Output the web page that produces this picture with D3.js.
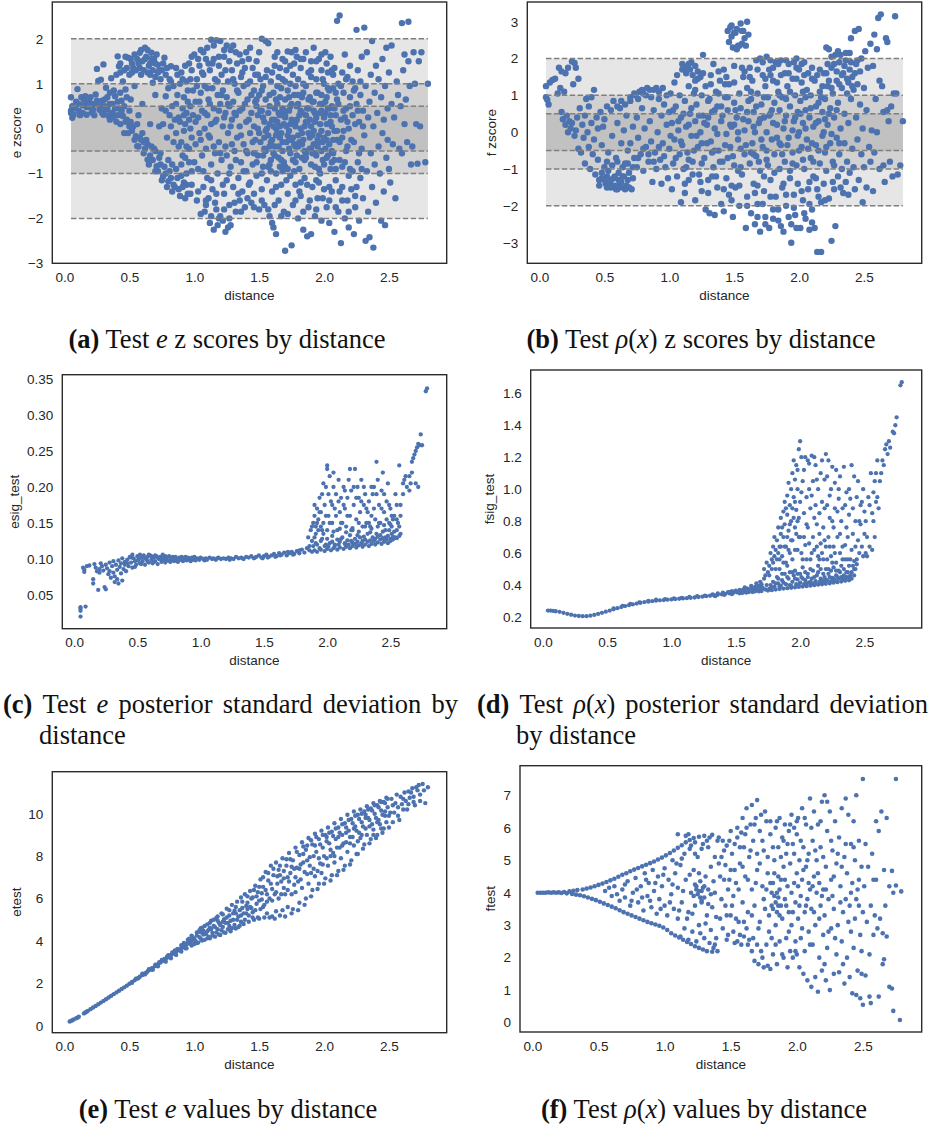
<!DOCTYPE html>
<html>
<head>
<meta charset="utf-8">
<script src="https://cdn.jsdelivr.net/npm/d3@7"></script>
<style>
  body { margin: 0; background: #fff; }
  svg { display: block; }
</style>
</head>
<body>
<script>
// ---- data: [distance, value] ----
const eZscore = [
[0.05,0.70],[0.05,0.40],[0.05,0.35],[0.06,0.24],[0.07,0.31],[0.08,0.45],[0.10,0.88],[0.11,0.40],[0.12,0.30],[0.14,0.52],[0.15,0.65],[0.16,0.72],[0.17,0.31],[0.18,0.58],[0.19,0.48],[0.20,0.70],[0.21,0.36],[0.22,0.42],[0.23,0.55],[0.24,0.76],[0.25,1.33],[0.26,1.06],[0.27,0.42],[0.28,1.09],[0.29,0.62],[0.30,1.43],[0.30,0.31],[0.31,0.50],[0.32,0.91],[0.32,0.42],[0.33,0.70],[0.34,0.28],[0.35,0.20],[0.35,0.55],[0.36,1.12],[0.37,0.35],[0.38,0.85],[0.39,0.72],[0.40,0.15],[0.41,1.61],[0.42,1.39],[0.42,0.45],[0.43,1.25],[0.44,0.62],[0.45,0.28],[0.45,1.05],[0.46,-0.10],[0.47,0.87],[0.48,1.35],[0.49,1.58],[0.50,0.40],[0.51,0.65],[0.52,1.45],[0.53,0.05],[0.54,0.95],[0.55,-0.17],[0.56,-0.39],[0.57,0.30],[0.58,1.69],[0.59,1.20],[0.60,0.55],[0.61,-0.30],[0.62,1.80],[0.63,-0.25],[0.64,-0.69],[0.65,1.40],[0.66,0.10],[0.67,1.69],[0.68,1.02],[0.69,-0.45],[0.70,0.75],[0.71,-0.84],[0.72,1.25],[0.73,0.05],[0.74,-0.55],[0.75,0.45],[0.76,-1.06],[0.77,1.58],[0.78,0.72],[0.79,-0.20],[0.80,-1.17],[0.81,0.30],[0.82,1.39],[0.83,-0.80],[0.84,0.95],[0.85,-1.30],[0.86,0.55],[0.87,1.20],[0.88,-0.40],[0.89,0.15],[0.90,-1.05],[0.91,1.10],[0.92,0.70],[0.93,-0.65],[0.94,0.35],[0.95,-1.45],[0.96,1.45],[0.97,0.00],[0.98,-0.95],[0.99,0.85],
[0.52,1.25],[0.55,1.30],[0.56,1.55],[0.58,1.35],[0.60,1.50],[0.63,1.60],[0.64,1.25],[0.66,1.45],[0.68,1.30],[0.69,1.55],[0.70,1.15],[0.72,1.42],[0.74,1.10],[0.75,1.30],[0.48,0.20],[0.50,0.05],[0.52,-0.05],[0.58,-0.20],[0.60,-0.10],[0.62,-0.45],[0.66,-0.60],[0.68,-0.70],[0.70,-0.50],[0.72,-0.95],[0.74,-0.80],[0.78,-1.00],[0.80,-0.70],[0.82,-1.10],[0.84,-1.25],[0.86,-0.90],[0.88,-1.35],[0.90,-0.80],[0.92,-1.20],[0.94,-1.00],[0.96,-0.75],[0.98,-1.25],[0.80,0.90],[0.83,0.50],[0.85,0.20],[0.87,0.75],[0.89,1.00],[0.91,0.45],[0.93,0.10],[0.95,0.60],[0.97,1.10],[0.99,0.30],[0.76,0.10],[0.78,0.40],[0.82,0.05],[0.84,-0.30],[0.86,-0.10],[0.88,0.25],[0.90,-0.30],[0.92,-0.05],[0.94,-0.40],[0.96,0.20],[0.98,-0.20],[0.82,1.05],[0.86,1.35],[0.90,1.25],[0.94,1.05],[0.98,1.30],
[1.00,1.65],[1.01,-0.35],[1.01,0.60],[1.02,-1.60],[1.02,1.10],[1.03,0.25],[1.03,-0.90],[1.04,1.40],[1.04,-0.10],[1.05,1.75],[1.05,-1.90],[1.05,0.80],[1.06,-0.60],[1.06,0.40],[1.07,-1.30],[1.07,1.20],[1.08,-1.85],[1.08,0.00],[1.08,0.95],[1.09,-0.45],[1.09,1.55],[1.10,1.80],[1.10,-1.10],[1.10,0.30],
[1.11,0.65],[1.11,-1.55],[1.12,-2.10],[1.12,1.30],[1.12,-0.20],[1.13,1.98],[1.13,0.10],[1.13,-0.80],[1.14,0.90],[1.14,-1.35],[1.15,-2.25],[1.15,0.45],[1.15,1.55],[1.16,-0.55],[1.16,1.10],[1.17,1.97],[1.17,-1.80],[1.17,0.20],[1.18,-2.15],[1.18,0.75],[1.18,-1.00],[1.19,1.40],[1.19,-0.30],[1.20,1.95],[1.20,-1.95],[1.20,0.55],
[1.21,-0.70],[1.21,1.20],[1.22,-2.05],[1.22,0.05],[1.22,0.85],[1.23,-1.45],[1.23,1.60],[1.24,-2.30],[1.24,0.35],[1.24,-0.40],[1.25,1.85],[1.25,-1.15],[1.25,0.70],[1.26,-2.20],[1.26,1.05],[1.26,-0.10],[1.27,-1.70],[1.27,0.50],[1.28,-2.15],[1.28,1.75],[1.28,-0.85],[1.29,0.20],[1.29,1.30],[1.30,1.85],[1.30,-1.30],[1.30,0.60],
[1.31,-0.50],[1.31,1.00],[1.32,-1.85],[1.32,0.30],[1.33,1.45],[1.33,-0.20],[1.34,-1.10],[1.34,0.80],[1.35,1.65],[1.35,-1.60],[1.35,0.05],[1.36,-0.75],[1.36,1.15],[1.37,0.45],[1.37,-1.40],[1.38,-0.35],[1.38,0.95],[1.39,-1.75],[1.39,1.35],[1.40,1.70],[1.40,-0.95],[1.40,0.15],
[1.41,0.65],[1.41,-0.55],[1.42,1.55],[1.42,-1.25],[1.43,-0.10],[1.43,1.05],[1.44,-1.65],[1.44,0.35],[1.45,1.35],[1.45,-0.80],[1.46,0.85],[1.46,-1.45],[1.47,-0.25],[1.47,1.20],[1.48,1.50],[1.48,-1.05],[1.48,0.50],[1.49,-0.60],[1.49,0.00],[1.50,1.70],[1.50,-1.80],[1.50,0.75],
[1.51,-0.30],[1.51,1.10],[1.52,2.00],[1.52,-1.35],[1.52,0.40],[1.53,-0.85],[1.53,0.95],[1.54,-1.70],[1.54,0.15],[1.55,1.95],[1.55,-0.50],[1.55,0.65],[1.56,-1.15],[1.56,1.30],[1.57,1.90],[1.57,-0.15],[1.58,-1.95],[1.58,0.50],[1.59,-0.70],[1.59,1.05],[1.60,0.20],[1.60,-1.40],[1.60,-2.10],
[1.61,-2.20],[1.61,0.80],[1.62,-0.40],[1.62,1.40],[1.63,-2.35],[1.63,0.00],[1.63,-1.00],[1.64,0.55],[1.64,1.70],[1.65,-0.65],[1.65,-1.60],[1.65,1.15],[1.66,0.30],[1.66,-0.20],[1.67,-1.25],[1.67,0.90],[1.68,1.55],[1.68,-0.50],[1.69,-1.85],[1.69,0.10],[1.70,-2.72],[1.70,0.65],[1.70,-0.85],
[1.71,1.30],[1.71,-0.30],[1.72,1.72],[1.72,-1.45],[1.73,0.40],[1.73,-0.05],[1.74,-1.05],[1.74,1.00],[1.75,-2.60],[1.75,1.70],[1.75,0.20],[1.76,-0.70],[1.76,-1.70],[1.77,0.75],[1.77,1.45],[1.78,-0.40],[1.78,-1.25],[1.79,0.50],[1.79,1.60],[1.80,-0.15],[1.80,-2.00],[1.80,1.10],
[1.81,0.30],[1.81,-0.90],[1.82,1.35],[1.82,-1.50],[1.83,-0.35],[1.83,0.70],[1.84,-2.25],[1.84,1.55],[1.85,0.05],[1.85,-1.10],[1.86,0.95],[1.86,-0.55],[1.87,-2.40],[1.87,0.45],[1.88,1.25],[1.88,-1.75],[1.89,-0.20],[1.89,0.20],[1.90,-2.35],[1.90,1.50],[1.90,-0.80],
[1.91,0.60],[1.91,-1.30],[1.92,1.80],[1.92,-0.05],[1.93,0.35],[1.93,-1.95],[1.94,-0.60],[1.94,1.10],[1.95,0.80],[1.95,-1.55],[1.96,1.55],[1.96,-0.30],[1.97,0.10],[1.97,-1.00],[1.98,1.30],[1.98,-2.05],[1.99,0.55],[1.99,-0.70],[2.00,-1.35],[2.00,0.25],[2.00,1.00],
[2.01,1.70],[2.01,-0.45],[2.02,-1.75],[2.02,0.70],[2.03,-0.10],[2.03,1.25],[2.04,-2.10],[2.04,0.45],[2.05,-0.90],[2.05,1.60],[2.06,0.05],[2.06,-1.40],[2.07,0.90],[2.07,-0.55],[2.08,-2.30],[2.08,1.35],[2.09,0.30],[2.09,-1.15],[2.10,2.40],[2.10,-0.25],[2.10,0.65],
[2.11,-1.85],[2.11,1.00],[2.12,2.52],[2.12,-0.70],[2.13,0.20],[2.13,-2.55],[2.14,1.25],[2.14,-1.30],[2.15,-0.05],[2.15,0.80],[2.16,-2.00],[2.16,1.65],[2.17,-0.50],[2.17,0.45],[2.18,-1.60],[2.18,1.15],[2.19,0.00],[2.19,-2.20],[2.20,0.70],[2.20,-0.90],[2.20,1.40],
[2.21,-1.35],[2.22,0.30],[2.22,1.05],[2.23,-2.35],[2.23,-0.30],[2.24,0.90],[2.24,-1.75],[2.25,2.20],[2.25,0.55],[2.26,-0.75],[2.26,1.30],[2.27,-2.05],[2.27,0.15],[2.28,0.75],[2.28,-1.10],[2.29,1.60],[2.29,-0.45],[2.30,-1.55],[2.30,0.40],
[2.31,2.25],[2.31,-0.15],[2.32,0.95],[2.32,-2.50],[2.33,-0.95],[2.33,1.70],[2.34,0.25],[2.34,-1.85],[2.35,-2.42],[2.35,0.60],[2.36,1.20],[2.36,-0.55],[2.37,-1.30],[2.37,1.95],[2.38,0.05],[2.38,-2.65],[2.39,0.80],[2.39,-0.80],[2.40,1.40],[2.40,-1.65],
[2.41,0.35],[2.42,-0.40],[2.42,1.10],[2.43,-1.00],[2.44,0.70],[2.44,-2.05],[2.45,1.55],[2.45,-0.10],[2.46,0.20],[2.46,-1.40],[2.47,0.95],[2.47,-2.15],[2.48,-0.65],[2.48,1.80],[2.49,0.45],[2.49,-0.25],[2.50,1.25],[2.50,-0.90],[2.51,-1.20],[2.52,0.55],
[2.52,1.85],[2.53,-0.35],[2.54,0.25],[2.55,-1.55],[2.56,1.05],[2.57,0.75],[2.58,-0.45],[2.59,0.50],[2.60,2.35],[2.60,-0.55],[2.61,1.30],[2.62,1.65],[2.62,0.10],[2.63,0.65],[2.64,-0.30],[2.65,2.38],[2.65,1.50],[2.66,0.95],[2.67,-0.80],[2.68,-0.40],[2.69,1.70],[2.70,1.00],[2.71,0.10],[2.72,-0.78],[2.73,1.50],[2.74,0.05],[2.75,1.70],[2.78,-0.75],[2.80,1.00],
[1.55,-0.05],[1.58,0.10],[1.60,-0.25],[1.62,0.20],[1.64,-0.10],[1.66,0.05],[1.68,-0.30],[1.70,0.25],[1.72,-0.15],[1.74,0.10],[1.76,-0.20],[1.78,0.15],[1.80,-0.40],[1.82,0.00],[1.84,-0.25],[1.86,0.30],[1.88,-0.10],[1.90,0.05],[1.92,-0.35],[1.94,0.25],[1.96,-0.15],[1.98,0.40],[2.00,-0.20],[2.02,0.10],[2.04,-0.35],[2.06,0.50],[2.08,-0.05],[1.62,-0.60],[1.68,0.45],[1.74,-0.55],[1.80,0.55],[1.86,-0.65],[1.92,0.60],[1.98,-0.50],[2.04,0.85],[1.72,-0.90],[1.84,0.80],[1.96,-0.90],[2.02,-0.65],[1.66,-0.85],[1.78,0.95],[1.90,-0.45],[1.58,-0.80],[1.64,0.95],[1.70,1.05],[1.82,-1.20],[1.94,-1.15],[2.06,-0.75],[2.12,-0.30],[2.16,0.25],[2.14,-0.85],[2.18,-0.40],
[0.91,-0.60],[0.92,0.30],[0.93,1.40],[0.94,-1.25],[0.95,0.85],[0.96,-0.45],[0.97,0.50],[0.98,1.60],[1.00,-0.75],[1.01,0.15],[1.02,0.95],[1.03,-1.40],[1.04,0.60],[1.05,-0.25],[1.06,1.25],[1.07,-0.95],[1.08,0.35],[1.09,-1.60],[1.10,0.90],[1.11,-0.15],[1.12,0.55],[1.13,-1.15],[1.14,1.45],[1.15,-0.40],[1.16,0.15],[1.17,-1.45],[1.18,1.05],[1.19,0.40],[1.20,-0.55],[1.21,0.75],[1.22,-1.25],[1.23,0.25],[1.24,1.30],[1.25,-0.60],[1.26,0.55],[1.27,-1.00],[1.28,0.05],[1.29,-0.35],[1.30,1.10],[1.31,0.35],[1.32,-0.70],[1.33,0.85],[1.34,-1.45],[1.35,0.40],[1.36,-0.15],[1.37,1.25],[1.38,-0.95],[1.39,0.55],[1.40,-0.50],[1.41,1.00],[1.42,0.20],[1.43,-1.20],[1.44,0.75],[1.45,-0.30],[1.46,0.05],[1.47,0.60],[1.48,-0.75],[1.49,1.20],[1.50,-0.10],[1.51,0.40],[1.52,-1.00],[1.53,0.25],[1.54,-0.45],[1.55,1.15],[1.56,0.00],[1.57,-0.85],[1.58,0.75],[1.59,-0.30],[1.60,1.25],[1.61,-0.55],[1.62,0.45],[1.63,-1.30],[1.64,0.15],[1.65,-0.40],[1.66,0.70],[1.67,-0.10],[1.68,1.10],[1.69,-0.75],[1.70,0.30],[1.71,-1.15],[1.72,0.85],[1.73,-0.45],[1.74,0.50],[1.75,-0.25],[1.76,1.20],[1.77,-0.95],[1.78,0.05],[1.79,-0.60],[1.80,0.75],[1.81,-1.40],[1.82,0.40],[1.83,-0.10],[1.84,1.00],[1.85,-0.70],[1.86,0.15],[1.87,-1.25],[1.88,0.65],[1.89,-0.45],[1.90,1.15],[1.91,-0.15],[1.92,0.40],[1.93,-0.85],[1.94,0.80],[1.95,-0.25],[1.96,-1.20],[1.97,0.55],[1.98,-0.05],[1.99,1.10],[2.00,-0.80],[2.01,0.35],[2.02,-0.25],[2.03,0.90],[2.04,-1.30],[2.05,0.15],[2.06,-0.50],[2.07,1.20],[2.08,0.45],[2.09,-0.90],[2.10,-0.05],[2.11,0.55],[2.12,-1.40],[2.13,0.95],[2.14,-0.20],[2.15,0.40],[2.16,-0.75],[2.17,1.10],[2.18,0.15],[2.19,-1.05],[2.20,0.50],[2.21,-0.25],[2.22,-0.95],[2.23,0.85],[2.24,0.10],[2.25,-1.30],[2.26,0.40],[2.27,-0.55],[2.28,1.05],[2.29,-0.90],[2.30,0.05],
[1.46,-0.55],[1.49,0.30],[1.52,0.85],[1.54,-0.20],[1.57,0.35],[1.59,-0.95],[1.61,0.05],[1.63,0.65],[1.65,0.35],[1.67,-0.70],[1.69,0.40],[1.71,0.05],[1.73,-0.25],[1.75,0.55],[1.77,-0.35],[1.79,0.20],[1.81,-0.30],[1.83,0.35],[1.85,-0.50],[1.87,0.15],[1.89,0.70],[1.91,-0.55],[1.93,0.15],[1.95,-0.40],[1.97,0.35],[1.99,-0.30],[2.01,0.60],[2.03,-0.60],[2.05,0.30],[2.07,-0.25],[2.09,0.80],[1.48,0.65],[1.53,-0.60],[1.58,-0.40],[1.63,-0.15],[1.68,-0.95],[1.73,0.70],[1.78,-0.75],[1.83,-0.65],[1.88,0.45],[1.93,-0.55],[1.98,0.75],[2.03,0.45],[2.08,-0.70],
[0.40,1.20],[0.43,1.45],[0.46,1.30],[0.47,1.60],[0.50,1.20],[0.51,1.55],[0.53,1.35],[0.54,1.65],[0.57,1.45],[0.59,1.75],[0.61,1.30],[0.62,1.55],[0.64,1.75],[0.66,1.20],[0.67,1.55],[0.70,1.45],[0.71,1.65],[0.73,1.30],[0.76,1.45],[0.78,1.20],[0.79,1.35],[0.81,1.10],[0.36,0.35],[0.38,0.25],[0.41,0.30],[0.43,0.10],[0.44,0.40],[0.47,0.15],[0.49,-0.10],[0.51,0.15],[0.54,-0.25],[0.56,0.10],[0.57,-0.40],[0.59,-0.25],[0.61,-0.55],[0.64,-0.35],[0.65,-0.80],[0.67,-0.40],[0.70,-0.95],[0.73,-0.65],[0.75,-1.15],[0.77,-0.85],[0.79,-1.30],[0.81,-0.95],[0.83,-1.40],[0.87,-1.10],[0.89,-1.50],[0.91,-1.30],[0.93,-1.55],[0.97,-1.45],
[0.06,0.50],[0.09,0.60],[0.11,0.55],[0.13,0.70],[0.14,0.35],[0.17,0.48],[0.19,0.60],[0.21,0.55],[0.23,0.30],[0.25,0.62],[0.27,0.50],[0.29,0.35],[0.31,0.65],[0.33,0.45],[0.35,0.80],[0.37,0.55],[0.39,0.45],[0.41,0.60],[0.43,0.80],[0.46,0.50],[0.48,0.70],
[1.03,1.55],[1.07,1.70],[1.11,1.45],[1.15,1.85],[1.19,1.60],[1.23,1.75],[1.27,1.50],[1.32,1.70],[1.37,1.50],[1.43,1.80],[1.09,-1.70],[1.13,-1.95],[1.16,-1.65],[1.19,-2.00],[1.23,-1.80],[1.27,-2.00],[1.31,-1.65],[1.36,-1.85],[1.41,-1.55],[1.46,-1.75],[1.52,-1.60],[1.57,-1.80],[1.62,-1.70],[1.67,-1.95],[1.72,-1.90],[1.78,-1.60],[1.84,-1.85],[1.89,-1.60],[1.94,-1.80],[1.99,-1.55],[2.04,-1.60],[2.09,-1.75],[2.14,-1.60],[2.19,-1.85],[2.24,-1.50],
[1.70,1.50],[1.74,1.40],[1.78,1.75],[1.82,1.55],[1.86,1.70],[1.90,1.30],[1.94,1.50],[1.98,1.65],[2.02,1.45],[2.06,1.30],[1.62,1.60],[1.66,1.35]
];

const fZscore = [
[0.05,1.25],[0.05,0.95],[0.06,0.88],[0.07,0.75],[0.08,1.35],[0.10,1.42],[0.12,1.45],[0.14,1.05],[0.15,1.75],[0.16,1.20],[0.17,1.65],[0.17,0.55],[0.18,0.35],[0.19,1.10],[0.20,1.60],[0.20,0.20],[0.21,0.45],[0.22,1.75],[0.22,0.00],[0.23,0.30],[0.24,0.10],[0.25,1.92],[0.25,0.25],[0.26,1.30],[0.27,1.88],[0.27,-0.10],[0.28,1.75],[0.28,0.05],[0.29,0.40],[0.30,1.45],[0.30,-0.45],[0.31,0.65],[0.32,-0.55],[0.33,0.20],[0.34,-0.15],[0.35,0.45],[0.35,-0.85],[0.36,0.90],[0.37,0.00],[0.38,-0.40],[0.38,0.70],[0.39,-1.00],[0.40,0.95],[0.40,0.25],[0.41,-0.60],[0.42,1.15],[0.42,-0.20],[0.43,-1.15],[0.44,0.40],[0.45,-0.75],[0.45,0.10],[0.46,-1.30],[0.47,0.55],[0.48,-0.35],[0.48,-1.25],[0.49,0.15],[0.50,-0.95],
[0.50,0.35],[0.51,-1.40],[0.52,-1.20],[0.52,0.70],[0.53,-0.55],[0.54,-1.35],[0.55,0.60],[0.55,-1.50],[0.56,-0.10],[0.57,-1.25],[0.57,0.85],[0.58,-1.45],[0.59,-0.70],[0.60,-1.55],[0.60,0.25],[0.61,-1.30],[0.62,0.65],[0.62,-1.40],[0.63,-0.30],[0.64,-1.50],[0.65,0.05],[0.65,-1.20],[0.66,-0.85],[0.67,-1.45],[0.67,0.45],[0.68,-0.50],[0.69,-1.10],[0.70,0.85],[0.70,-0.30],[0.71,-1.55],[0.72,0.15],[0.73,-0.70],[0.74,1.00],[0.75,-0.95],[0.75,0.40],[0.76,-0.15],[0.77,1.10],[0.78,-0.60],[0.79,0.65],[0.80,-1.05],[0.80,1.05],[0.81,0.10],[0.82,-0.40],[0.83,1.20],[0.84,-0.80],[0.85,0.30],[0.85,1.15],[0.86,-0.25],[0.87,-1.35],[0.88,0.60],[0.89,-0.55],[0.90,1.20],[0.90,-1.00],[0.91,0.00],[0.92,0.90],[0.93,-0.75],[0.94,-1.40],[0.94,0.45],[0.95,-0.30],[0.96,0.75],[0.97,-0.95],[0.98,0.20],[0.99,-1.25],[1.00,0.55],
[1.00,-0.45],[1.01,1.05],[1.02,-1.55],[1.02,0.25],[1.03,-0.85],[1.04,1.35],[1.04,-0.20],[1.05,0.70],[1.06,-1.20],[1.06,1.55],[1.07,0.05],[1.08,-0.60],[1.08,1.00],[1.09,-1.90],[1.09,0.40],[1.10,1.70],[1.10,-0.35],[1.11,-1.00],[1.12,0.85],[1.12,-1.65],[1.13,0.15],[1.14,1.80],[1.14,-0.55],[1.15,1.25],[1.15,-1.30],[1.16,0.50],[1.17,1.90],[1.17,-0.10],[1.18,-0.80],[1.19,1.05],[1.20,-1.85],[1.20,0.30],[1.21,0.75],[1.22,-0.40],[1.22,1.45],[1.23,-1.15],[1.24,0.00],[1.25,1.00],[1.25,-1.60],[1.26,2.10],[1.26,0.45],[1.27,-0.70],[1.28,-2.10],[1.28,1.25],[1.29,0.20],[1.30,-1.30],[1.30,0.85],[1.31,-2.20],[1.32,1.55],[1.32,-0.25],[1.33,0.55],[1.34,-0.95],[1.34,1.85],[1.35,-2.25],[1.35,0.10],[1.36,1.10],[1.37,-1.50],[1.37,0.70],[1.38,-0.50],[1.39,1.40],[1.40,-1.95],[1.40,0.30],[1.41,-0.80],[1.42,1.70],[1.42,-2.15],[1.43,0.95],[1.44,-0.05],[1.44,-1.25],[1.45,2.75],[1.45,0.60],[1.46,1.30],[1.46,-1.70],[1.47,2.85],[1.47,-0.40],[1.48,2.60],[1.48,0.15],[1.49,2.30],[1.49,-2.30],[1.50,1.80],[1.50,-0.90],[1.50,0.80],
[1.51,2.70],[1.51,-1.50],[1.52,2.25],[1.52,0.40],[1.53,2.35],[1.53,-0.20],[1.54,1.05],[1.54,-2.00],[1.55,2.95],[1.55,0.65],[1.56,2.40],[1.56,-1.15],[1.57,2.75],[1.57,1.50],[1.58,-0.60],[1.58,0.05],[1.59,2.35],[1.59,-2.60],[1.60,3.00],[1.60,1.20],[1.60,-1.75],[1.61,2.65],[1.61,0.30],[1.62,-0.85],[1.62,1.75],[1.63,-2.20],[1.63,0.90],[1.64,-0.30],[1.64,1.40],[1.65,-1.40],[1.65,0.55],[1.66,-2.50],[1.66,0.00],[1.67,1.95],[1.67,-0.65],[1.68,1.05],[1.68,-1.95],[1.69,0.25],[1.70,2.00],[1.70,-2.70],[1.70,-1.05],[1.71,0.75],[1.72,1.55],[1.72,-0.40],[1.73,-1.60],[1.73,0.40],[1.74,1.25],[1.74,-2.30],[1.75,0.00],[1.75,2.05],[1.76,-0.90],[1.76,0.95],[1.77,-2.60],[1.77,1.70],[1.78,-1.30],[1.78,0.50],[1.79,-0.20],[1.80,1.40],[1.80,-2.10],[1.81,0.80],[1.81,-0.60],[1.82,1.90],[1.82,-1.75],[1.83,0.20],[1.84,-2.40],[1.84,1.10],[1.85,-1.00],[1.85,0.60],[1.86,1.95],[1.86,-0.35],[1.87,-1.50],[1.87,0.95],[1.88,-2.70],[1.88,0.10],[1.89,1.60],[1.89,-0.80],[1.90,0.45],[1.90,-2.00],[1.91,1.25],[1.92,-0.15],[1.92,1.85],[1.93,-1.25],[1.93,0.70],[1.94,-2.50],[1.94,-3.00],[1.95,1.45],[1.95,-0.55],[1.96,0.30],[1.96,-1.70],[1.97,1.00],[1.97,-2.25],[1.98,2.00],[1.98,-0.90],[1.99,0.55],[1.99,-1.40],[2.00,1.70],[2.00,0.00],
[2.01,-2.60],[2.01,0.85],[2.02,-0.40],[2.02,1.35],[2.03,-1.85],[2.03,0.25],[2.04,1.90],[2.04,-1.00],[2.05,0.60],[2.05,-2.35],[2.06,1.15],[2.06,-0.20],[2.07,-1.55],[2.07,1.60],[2.08,0.40],[2.08,-2.65],[2.09,-0.70],[2.09,1.00],[2.10,1.75],[2.10,-2.10],[2.11,0.15],[2.11,-1.20],[2.12,1.40],[2.12,-2.60],[2.13,-0.35],[2.13,0.70],[2.14,-3.25],[2.14,1.55],[2.15,-1.75],[2.15,0.30],[2.16,-0.85],[2.16,1.10],[2.17,-3.25],[2.17,-1.90],[2.18,0.55],[2.18,-0.10],[2.19,1.60],[2.19,-1.40],[2.20,0.90],[2.20,-0.55],[2.21,2.30],[2.21,-1.05],[2.22,1.25],[2.22,0.20],[2.23,2.25],[2.23,-1.80],[2.24,0.65],[2.24,-0.30],[2.25,1.75],[2.25,-2.95],[2.26,-0.80],[2.26,1.05],[2.27,-1.55],[2.27,0.40],[2.28,2.10],[2.28,-2.55],[2.29,1.40],[2.29,-0.15],[2.30,-1.20],[2.30,0.80],[2.31,1.90],[2.31,-0.60],[2.32,2.10],[2.32,0.10],[2.33,1.20],[2.33,-1.00],[2.34,-1.65],[2.34,1.60],[2.35,0.50],[2.35,-0.30],[2.36,1.95],[2.36,-1.35],[2.37,1.05],[2.37,-0.80],[2.38,1.35],[2.38,0.25],[2.39,2.15],[2.39,-1.10],[2.40,2.55],[2.40,0.90],[2.41,-0.45],[2.41,1.50],[2.42,1.15],[2.42,-0.95],[2.43,2.75],[2.43,-1.55],[2.44,0.40],[2.44,1.85],[2.45,-0.20],[2.45,1.30],[2.46,2.80],[2.46,-1.30],[2.47,0.75],[2.47,1.65],[2.48,-0.60],[2.48,2.00],[2.49,-1.90],[2.49,0.10],[2.50,1.20],[2.50,-0.95],
[2.51,2.20],[2.52,-1.50],[2.52,0.60],[2.53,1.75],[2.54,-0.40],[2.55,2.40],[2.55,-0.80],[2.56,0.05],[2.57,1.80],[2.57,-1.60],[2.58,2.65],[2.58,-0.55],[2.59,0.90],[2.60,2.25],[2.60,0.00],[2.61,3.10],[2.62,1.40],[2.62,-1.00],[2.63,3.20],[2.64,1.25],[2.65,0.55],[2.65,-0.90],[2.66,-1.35],[2.67,2.55],[2.68,2.45],[2.68,0.60],[2.69,0.30],[2.70,-0.80],[2.71,0.70],[2.72,-1.20],[2.73,1.05],[2.74,3.15],[2.75,1.05],[2.76,-1.15],[2.78,-0.90],[2.80,0.30],
[1.30,0.40],[1.35,-0.50],[1.40,0.70],[1.45,-0.70],[1.50,0.20],[1.55,-0.45],[1.60,0.55],[1.65,-0.60],[1.70,0.35],[1.75,-0.50],[1.80,0.25],[1.85,-0.30],[1.90,0.90],[1.95,0.05],[2.00,-0.50],[2.05,0.95],[2.10,-0.30],[2.15,0.80],[2.20,0.35],[1.33,-1.20],[1.43,1.30],[1.53,-1.05],[1.63,1.10],[1.73,-1.20],[1.83,1.35],[1.93,-1.05],[2.03,1.10],[2.13,-1.25],[1.38,1.05],[1.48,-1.45],[1.58,1.65],[1.68,-1.45],[1.78,1.55],[1.88,-1.40],[1.98,1.45],[2.08,-1.35],[2.18,1.25],[1.25,-0.30],[1.20,1.15],[1.15,-0.75],
[0.46,-1.45],[0.48,-1.10],[0.50,-1.30],[0.52,-1.50],[0.53,-1.05],[0.55,-1.30],[0.56,-1.45],[0.58,-1.20],[0.59,-1.55],[0.61,-1.10],[0.63,-1.35],[0.64,-1.20],[0.66,-1.55],[0.68,-1.30],[0.69,-1.50],[0.72,-1.25],[0.52,-0.80],[0.56,-0.90],[0.60,-0.80],[0.64,-0.95],[0.68,-0.85],[0.72,-0.95],[0.76,-0.70],[0.80,-0.45],[0.84,-0.60],[0.88,-0.80],[0.92,-0.40],[0.96,-0.65],
[0.60,0.70],[0.63,0.85],[0.66,0.75],[0.70,0.95],[0.73,1.05],[0.76,0.90],[0.79,1.15],[0.82,1.00],[0.86,0.95],[0.88,1.15],[0.92,1.10],[0.95,1.20],[0.98,1.00],
[1.10,1.85],[1.12,1.75],[1.13,1.60],[1.15,1.85],[1.16,1.70],[1.18,1.55],[1.20,1.80],[1.22,1.65],[1.24,1.50],
[1.46,2.45],[1.48,2.90],[1.50,2.70],[1.52,2.80],[1.54,2.35],[1.56,2.75],[1.58,2.55],
[2.21,1.60],[2.23,1.40],[2.25,1.20],[2.27,1.85],[2.29,1.65],[2.31,1.30],[2.33,1.55],[2.35,1.80],[2.37,1.45],[2.39,1.70],[2.41,1.25],[2.43,1.60],[2.45,1.95],[2.40,1.90],[2.36,2.15],[2.30,2.20],[2.25,2.05],
[1.01,-0.10],[1.03,0.60],[1.05,-0.70],[1.07,0.30],[1.09,-0.25],[1.11,0.50],[1.13,-0.95],[1.15,0.20],[1.17,0.65],[1.19,-0.50],[1.21,-0.10],[1.23,0.45],[1.25,-0.85],[1.27,0.25],[1.29,-0.30],[1.31,0.90],[1.33,-0.55],[1.35,0.60],[1.37,-0.05],[1.39,-0.80],[1.41,0.45],[1.43,-0.35],[1.45,0.95],[1.47,0.20],[1.49,-0.65],[1.51,0.60],[1.53,0.00],[1.55,-0.95],[1.57,0.35],[1.59,-0.35],[1.61,0.85],[1.63,-0.55],[1.65,0.15],[1.67,0.70],[1.69,-0.80],[1.71,-0.20],[1.73,0.95],[1.75,-0.75],[1.77,0.45],[1.79,0.60],[1.81,-1.10],[1.83,-0.15],[1.85,1.00],[1.87,-0.60],[1.89,0.30],[1.91,-0.35],[1.93,1.10],[1.95,-0.85],[1.97,0.40],[1.99,-0.10],[2.01,0.50],[2.03,-0.75],[2.05,0.10],[2.07,-0.45],[2.09,0.65],[2.11,-0.80],[2.13,0.25],[2.15,-0.50],[2.17,0.95],[2.19,0.00],[2.21,-0.40],[2.23,0.50],[2.25,-0.05],[2.27,-0.90],[2.29,0.60],[2.31,-0.30],
[1.12,-1.40],[1.18,-1.15],[1.24,-1.35],[1.30,-1.65],[1.36,-1.20],[1.42,-1.55],[1.48,-1.85],[1.54,-1.45],[1.60,-2.00],[1.66,-1.65],[1.72,-1.95],[1.78,-1.75],[1.84,-2.10],[1.90,-1.70],[1.96,-2.05],[2.02,-1.60],[2.08,-1.95],[2.14,-1.55],[2.20,-1.85],[2.26,-1.35],[2.32,-1.50],[2.38,-1.70],[1.80,-2.35],[1.86,-2.55],[1.92,-2.30],[1.98,-2.60],[2.04,-2.20],[2.10,-2.45],[1.68,-2.30],[1.74,-2.50],
[1.20,1.40],[1.26,1.60],[1.32,1.30],[1.38,1.65],[1.44,1.50],[1.50,1.35],[1.56,1.75],[1.62,1.50],[1.68,1.70],[1.74,1.45],[1.80,1.75],[1.86,1.55],[1.92,1.60],[1.98,1.75],[2.04,1.55],[2.10,1.45],[2.16,1.70],[2.22,1.85],[1.72,1.90],[1.78,1.95],[1.84,1.85],[1.90,1.95],[1.96,1.90],[2.02,1.85]
];

const eSig = [
[0.05,0.020],[0.05,0.028],[0.05,0.031],[0.05,0.033],[0.09,0.034],[0.07,0.088],[0.08,0.085],[0.08,0.082],[0.10,0.090],[0.12,0.091],[0.15,0.072],[0.15,0.066],[0.16,0.093],[0.17,0.088],[0.18,0.083],[0.19,0.057],[0.20,0.086],[0.20,0.081],[0.21,0.094],[0.22,0.090],[0.23,0.084],[0.24,0.061],[0.25,0.058],[0.25,0.092],[0.26,0.087],[0.27,0.079],[0.28,0.095],[0.28,0.083],[0.29,0.074],[0.30,0.090],[0.31,0.097],[0.31,0.081],[0.32,0.068],[0.32,0.076],[0.33,0.092],[0.34,0.085],[0.34,0.072],[0.35,0.098],[0.35,0.066],[0.36,0.089],[0.37,0.080],[0.37,0.094],[0.38,0.101],[0.38,0.070],[0.39,0.086],[0.40,0.096],[0.40,0.092],[0.41,0.083],[0.42,0.099],[0.43,0.090],[0.44,0.103],[0.45,0.095],[0.46,0.088],[0.47,0.101],[0.48,0.097],[0.49,0.092],[0.50,0.104],[0.51,0.099],[0.52,0.094],[0.53,0.102],[0.54,0.097],[0.55,0.105],[0.56,0.092],[0.57,0.100],[0.58,0.103],[0.59,0.095],[0.60,0.105],[0.61,0.099],[0.62,0.094],[0.63,0.102],[0.64,0.097],[0.65,0.104],[0.66,0.093],[0.67,0.100],[0.68,0.103],[0.69,0.096],[0.70,0.104],[0.71,0.099],[0.72,0.095],[0.73,0.102],[0.74,0.098],[0.75,0.104],[0.76,0.096],[0.77,0.101],[0.78,0.103],[0.79,0.097],[0.80,0.103],[0.81,0.099],[0.82,0.096],[0.83,0.102],[0.84,0.099],[0.85,0.103],[0.86,0.097],[0.87,0.101],[0.88,0.103],[0.89,0.098],[0.90,0.102],[0.91,0.100],[0.92,0.097],[0.93,0.102],[0.94,0.099],[0.95,0.103],[0.96,0.098],[0.97,0.101],[0.98,0.100],[0.99,0.099],[1.00,0.102],
[1.02,0.100],[1.04,0.101],[1.05,0.099],[1.07,0.102],[1.09,0.100],[1.10,0.101],[1.12,0.099],[1.14,0.102],[1.16,0.100],[1.18,0.101],[1.20,0.100],[1.22,0.102],[1.24,0.101],[1.26,0.100],[1.28,0.103],[1.30,0.101],[1.32,0.102],[1.34,0.100],[1.36,0.103],[1.38,0.102],[1.40,0.104],[1.42,0.101],[1.44,0.103],[1.46,0.105],[1.48,0.102],[1.50,0.104],[1.52,0.106],[1.54,0.103],[1.56,0.105],[1.58,0.107],[1.60,0.104],[1.62,0.108],[1.64,0.106],[1.66,0.109],[1.68,0.105],[1.70,0.108],[1.72,0.110],[1.74,0.107],[1.76,0.111],[1.78,0.108],[1.80,0.113],[1.82,0.109],[1.84,0.115],[1.86,0.118],[1.88,0.110],
[1.03,0.098],[1.13,0.101],[1.23,0.099],[1.33,0.101],[1.43,0.102],[1.53,0.102],[1.63,0.105],[1.73,0.106],[1.78,0.112],[1.69,0.110],[1.59,0.103],[1.49,0.101],
[1.90,0.112],[1.92,0.110],[1.95,0.113],[1.98,0.111],[2.00,0.114],[2.03,0.112],[2.05,0.115],[2.08,0.113],[2.10,0.116],[2.13,0.114],[2.15,0.117],[2.18,0.115],[2.20,0.118],[2.23,0.116],[2.25,0.119],[2.28,0.117],[2.30,0.120],[2.33,0.118],[2.35,0.121],[2.38,0.120],[2.40,0.123],[2.43,0.121],[2.45,0.124],[2.48,0.122],[2.50,0.125],[2.52,0.127],[2.55,0.129],[2.57,0.132],[2.58,0.135],
[1.88,0.125],[1.90,0.130],[1.92,0.120],[1.93,0.140],[1.95,0.125],[1.97,0.135],[1.98,0.118],[2.00,0.128],[2.02,0.122],[2.04,0.132],[2.06,0.120],[2.08,0.127],[2.10,0.124],[2.12,0.130],[2.14,0.121],[2.16,0.126],[2.18,0.133],[2.20,0.123],[2.22,0.128],[2.24,0.124],[2.26,0.130],[2.28,0.125],[2.30,0.127],[2.32,0.135],[2.34,0.126],[2.36,0.130],[2.38,0.128],[2.40,0.131],[2.42,0.127],[2.44,0.129],[2.46,0.130],[2.48,0.132],[2.50,0.128],[2.52,0.131],[2.55,0.140],[2.57,0.145],[2.56,0.150],
[1.85,0.130],[1.87,0.140],[1.89,0.150],[1.90,0.160],[1.91,0.145],[1.92,0.170],[1.93,0.155],[1.94,0.185],[1.95,0.165],[1.96,0.190],[1.97,0.150],[1.98,0.175],[1.99,0.200],[2.00,0.230],[2.00,0.225],[2.01,0.160],[2.02,0.215],[2.03,0.180],[2.04,0.150],[2.05,0.200],[2.06,0.170],[2.07,0.190],[2.08,0.140],[2.09,0.210],[2.10,0.165],[2.11,0.185],[2.12,0.150],[2.13,0.200],[2.14,0.170],[2.15,0.145],[2.16,0.185],[2.17,0.210],[2.18,0.160],[2.19,0.195],[2.20,0.140],[2.21,0.175],[2.22,0.225],[2.23,0.155],[2.24,0.200],[2.25,0.185],[2.26,0.165],[2.27,0.210],[2.28,0.145],[2.29,0.175],[2.30,0.190],[2.31,0.150],[2.32,0.165],[2.33,0.180],[2.34,0.145],[2.35,0.160],[2.36,0.190],[2.37,0.200],[2.38,0.155],[2.39,0.235],[2.40,0.210],[2.41,0.175],[2.42,0.150],[2.43,0.195],[2.44,0.220],[2.45,0.165],[2.46,0.140],[2.47,0.180],[2.48,0.205],[2.49,0.150],[2.50,0.170],[2.51,0.160],[2.52,0.155],[2.54,0.190],[2.55,0.175],[2.57,0.230],[2.58,0.160],[2.60,0.190],[2.61,0.210],[2.62,0.215],[2.63,0.200],
[2.65,0.195],[2.66,0.205],[2.67,0.220],[2.68,0.240],[2.69,0.245],[2.70,0.250],[2.71,0.255],[2.72,0.260],[2.72,0.200],[2.73,0.258],[2.74,0.273],[2.75,0.258],[2.70,0.205],[2.78,0.333],[2.79,0.337],[2.67,0.235],[2.65,0.215],
[0.42,0.094],[0.45,0.102],[0.48,0.089],[0.50,0.098],[0.53,0.093],[0.56,0.101],[0.58,0.097],[0.61,0.104],[0.63,0.096],[0.66,0.102],[0.69,0.100],[0.72,0.104],[0.75,0.098],[0.78,0.100],[0.46,0.106],[0.52,0.106],[0.59,0.106],[0.64,0.105],[0.70,0.106],
[1.88,0.145],[1.90,0.175],[1.92,0.150],[1.94,0.165],[1.96,0.140],[1.97,0.205],[1.99,0.160],[2.01,0.190],[2.02,0.150],[2.04,0.175],[2.05,0.220],[2.07,0.160],[2.09,0.180],[2.11,0.150],[2.13,0.175],[2.14,0.195],[2.16,0.160],[2.18,0.225],[2.19,0.140],[2.21,0.200],[2.23,0.185],[2.25,0.150],[2.27,0.180],[2.29,0.200],[2.31,0.170],[2.33,0.150],[2.35,0.200],[2.37,0.170],[2.39,0.190],[2.41,0.150],[2.43,0.170],[2.45,0.190],[2.47,0.155],[2.49,0.175],[2.51,0.145],[2.53,0.160],[2.55,0.155],[2.58,0.175],[2.60,0.205],
[1.86,0.112],[1.89,0.118],[1.91,0.122],[1.94,0.115],[1.96,0.128],[1.99,0.120],[2.01,0.117],[2.04,0.124],[2.06,0.118],[2.09,0.120],[2.11,0.128],[2.14,0.122],[2.17,0.120],[2.19,0.125],[2.22,0.121],[2.24,0.133],[2.27,0.122],[2.29,0.131],[2.32,0.124],[2.34,0.137],[2.37,0.125],[2.39,0.135],[2.42,0.133],[2.44,0.138],[2.47,0.127],[2.49,0.140],[2.51,0.135],[2.53,0.138],[2.54,0.130],[1.91,0.135],[1.95,0.145],[2.00,0.140],[2.05,0.138],[2.10,0.142],[2.15,0.137],[2.20,0.143],[2.25,0.138],[2.30,0.145],[2.35,0.142],[2.40,0.145],[2.45,0.147],[2.50,0.148]
];

const fSig = [
[0.04,0.240],[0.06,0.240],[0.08,0.238],[0.10,0.236],[0.13,0.232],[0.16,0.226],[0.19,0.220],[0.22,0.214],[0.25,0.209],[0.28,0.206],[0.31,0.205],[0.34,0.205],[0.37,0.208],[0.40,0.213],[0.43,0.219],[0.46,0.226],[0.49,0.233],[0.52,0.240],[0.55,0.248],[0.58,0.255],[0.61,0.262],[0.64,0.268],[0.67,0.274],[0.70,0.279],[0.73,0.284],[0.76,0.289],[0.79,0.293],[0.82,0.296],[0.85,0.299],[0.88,0.302],[0.91,0.304],[0.94,0.306],[0.97,0.308],[1.00,0.310],[1.03,0.312],[1.06,0.314],[1.09,0.316],[1.12,0.318],[1.15,0.320],[1.18,0.322],[1.21,0.325],[1.24,0.327],[1.27,0.330],[1.30,0.333],[1.33,0.336],[1.36,0.339],[1.39,0.342],[1.42,0.345],[1.45,0.348],[1.48,0.351],[1.51,0.354],[1.54,0.357],[1.57,0.360],[1.60,0.362],[1.63,0.365],[1.66,0.368],[1.69,0.370],
[0.55,0.254],[0.62,0.270],[0.68,0.282],[0.75,0.292],[0.82,0.301],[0.88,0.308],[0.95,0.312],[1.02,0.317],[1.08,0.320],[1.14,0.325],[1.20,0.330],[1.26,0.334],[1.32,0.342],[1.36,0.348],[1.40,0.352],[1.44,0.356],[1.47,0.362],[1.50,0.365],[1.53,0.370],[1.56,0.372],[1.59,0.378],[1.62,0.380],[1.65,0.388],[1.68,0.395],[1.70,0.405],[1.34,0.330],[1.41,0.338],[1.47,0.343],[1.53,0.348],[1.58,0.352],[1.63,0.356],[1.68,0.360],[1.57,0.385],[1.62,0.395],[1.66,0.410],[1.69,0.420],[1.72,0.440],[1.73,0.460],[1.71,0.380],[1.73,0.372],[1.76,0.375],[1.74,0.400],[1.75,0.480],
[1.75,0.365],[1.78,0.368],[1.81,0.372],[1.84,0.375],[1.87,0.378],[1.90,0.380],[1.93,0.383],[1.96,0.385],[1.99,0.388],[2.02,0.390],[2.05,0.393],[2.08,0.396],[2.11,0.399],[2.14,0.402],[2.17,0.405],[2.20,0.408],[2.23,0.411],[2.26,0.415],[2.29,0.418],[2.32,0.422],[2.35,0.426],[2.38,0.430],[2.40,0.440],[2.42,0.460],[2.43,0.500],
[1.77,0.400],[1.79,0.420],[1.80,0.390],[1.82,0.450],[1.83,0.410],[1.85,0.395],[1.86,0.430],[1.88,0.470],[1.89,0.405],[1.91,0.440],[1.92,0.400],[1.94,0.420],[1.95,0.460],[1.97,0.405],[1.98,0.435],[2.00,0.415],[2.01,0.450],[2.03,0.405],[2.04,0.430],[2.06,0.470],[2.07,0.415],[2.09,0.440],[2.10,0.410],[2.12,0.425],[2.13,0.460],[2.15,0.420],[2.16,0.440],[2.18,0.415],[2.19,0.450],[2.21,0.430],[2.22,0.470],[2.24,0.425],[2.25,0.445],[2.27,0.430],[2.28,0.460],[2.30,0.440],[2.31,0.480],[2.33,0.440],[2.34,0.460],[2.36,0.450],[2.37,0.480],[2.39,0.460],[1.84,0.500],[1.90,0.520],[1.96,0.490],[2.02,0.510],[2.08,0.500],[2.14,0.520],[2.20,0.500],[2.26,0.510],[2.32,0.520],
[1.72,0.500],[1.74,0.540],[1.76,0.520],[1.77,0.600],[1.78,0.560],[1.79,0.640],[1.80,0.580],[1.80,0.700],[1.81,0.620],[1.82,0.680],[1.83,0.760],[1.84,0.640],[1.85,0.720],[1.85,0.820],[1.86,0.580],[1.87,0.860],[1.87,0.700],[1.88,0.780],[1.88,0.920],[1.89,0.640],[1.90,0.960],[1.90,0.840],[1.91,0.740],[1.91,1.040],[1.92,0.600],[1.92,0.900],[1.93,1.000],[1.93,0.800],[1.94,1.100],[1.94,0.680],[1.95,0.950],[1.95,1.180],[1.96,0.760],[1.96,1.060],[1.97,0.870],[1.97,1.150],[1.98,0.620],[1.98,1.000],[1.99,1.250],[1.99,0.820],[2.00,1.300],[2.00,0.920],[2.00,0.700],[2.01,1.200],[2.02,0.560],[2.02,1.050],[2.03,0.850],[2.04,1.200],[2.04,0.650],[2.05,0.950],[2.06,1.180],[2.06,0.760],[2.07,1.000],[2.08,0.560],[2.08,0.880],[2.09,1.210],[2.10,0.700],[2.10,1.050],[2.11,0.620],[2.12,0.900],[2.12,1.150],[2.13,0.780],[2.14,0.580],[2.14,1.000],[2.15,0.850],[2.16,0.660],[2.16,1.100],[2.17,0.920],[2.18,0.560],[2.18,0.760],[2.19,1.060],[2.20,1.220],[2.20,0.640],[2.21,0.900],[2.22,1.180],[2.22,0.700],[2.23,0.820],[2.24,0.580],[2.24,1.000],[2.25,1.140],[2.26,0.760],[2.26,0.640],[2.27,0.880],[2.28,1.120],[2.28,0.540],[2.29,0.700],[2.30,0.940],[2.30,1.000],[2.31,0.600],[2.32,0.800],[2.33,0.560],[2.33,0.880],[2.34,1.140],[2.35,0.650],[2.36,0.760],[2.36,0.980],[2.37,0.560],[2.38,0.840],[2.39,0.940],[2.40,1.150],[2.40,0.620],[2.41,0.720],[2.42,1.080],[2.42,0.550],[2.43,0.800],[2.44,0.950],[2.45,0.680],[2.45,1.050],[2.46,0.600],[2.47,0.900],[2.47,0.780],[2.48,0.640],[2.49,1.000],[2.50,0.720],[2.50,0.860],
[2.51,0.600],[2.52,0.700],[2.53,0.950],[2.54,0.640],[2.55,1.100],[2.56,0.850],[2.57,0.800],[2.58,1.050],[2.59,0.920],[2.60,0.950],[2.60,1.180],[2.61,0.880],[2.62,1.050],[2.63,1.100],[2.64,1.180],[2.65,1.150],[2.66,1.250],[2.67,1.280],[2.68,1.220],[2.69,1.300],[2.70,1.260],[2.72,1.360],[2.73,1.350],[2.74,1.400],[2.75,1.450],[2.78,1.650],[2.79,1.670],
[1.76,0.460],[1.78,0.500],[1.79,0.540],[1.81,0.500],[1.82,0.560],[1.83,0.600],[1.84,0.560],[1.85,0.640],[1.86,0.760],[1.87,0.540],[1.88,0.640],[1.89,0.880],[1.89,0.540],[1.90,0.700],[1.91,0.620],[1.92,0.780],[1.93,0.680],[1.94,0.880],[1.94,0.560],[1.95,0.820],[1.96,0.620],[1.96,0.920],[1.97,0.720],[1.98,0.800],[1.98,1.120],[1.99,0.700],[2.01,0.600],[2.01,0.980],[2.03,0.700],[2.03,1.120],[2.05,0.560],[2.05,0.780],[2.07,0.660],[2.07,1.160],[2.09,0.600],[2.09,0.960],[2.11,0.820],[2.11,1.200],[2.13,0.640],[2.13,1.060],[2.15,0.560],[2.15,0.720],[2.17,0.600],[2.17,1.180],[2.19,0.680],[2.19,0.880],[2.21,0.560],[2.21,1.080],[2.23,0.640],[2.23,0.960],[2.25,0.540],[2.25,0.800],[2.27,0.600],[2.27,1.040],[2.29,0.860],[2.31,0.720],[2.31,1.080],[2.33,0.640],[2.35,0.900],[2.35,0.560],[2.37,0.700],[2.38,1.000],[2.39,0.560],[2.41,0.880],[2.43,0.640],[2.44,0.560],[2.46,0.800],[2.48,0.920],[2.49,0.580],[2.51,0.800],[2.52,0.580],[2.54,0.900],[2.56,0.620],[2.57,0.980],[2.58,0.700],[2.59,1.100],
[1.78,0.385],[1.81,0.410],[1.83,0.440],[1.84,0.390],[1.87,0.415],[1.90,0.450],[1.93,0.395],[1.94,0.480],[1.96,0.440],[1.99,0.400],[2.00,0.470],[2.02,0.440],[2.05,0.410],[2.06,0.450],[2.08,0.420],[2.11,0.450],[2.12,0.410],[2.14,0.480],[2.17,0.430],[2.18,0.470],[2.20,0.430],[2.23,0.450],[2.24,0.490],[2.26,0.440],[2.29,0.450],[2.30,0.490],[2.32,0.450],[2.35,0.440],[2.36,0.480],[2.38,0.450],[2.40,0.480],[2.41,0.520],[2.42,0.500],[1.86,0.470],[1.92,0.480],[1.98,0.470],[2.04,0.480],[2.10,0.490],[2.16,0.500],[2.22,0.500],[2.28,0.490],[2.34,0.500],[2.38,0.520],[2.44,0.530],
[1.45,0.355],[1.50,0.360],[1.55,0.365],[1.60,0.372],[1.65,0.378],[1.67,0.385],[1.70,0.390],[1.55,0.350],[1.60,0.355],[1.65,0.360],[1.70,0.362]
];

const eTest = [
[0.04,0.20],[0.05,0.23],[0.06,0.26],[0.07,0.29],[0.09,0.35],[0.10,0.38],[0.11,0.42],[0.15,0.58],[0.16,0.62],[0.17,0.66],[0.18,0.70],[0.20,0.78],[0.22,0.86],[0.24,0.93],[0.26,1.01],[0.28,1.09],[0.30,1.17],[0.32,1.25],[0.34,1.33],[0.36,1.41],[0.38,1.49],[0.40,1.57],[0.42,1.65],[0.44,1.73],[0.46,1.81],[0.48,1.89],[0.50,1.98],[0.52,2.06],[0.54,2.14],[0.56,2.22],[0.58,2.31],[0.60,2.39],[0.62,2.47],[0.64,2.56],[0.66,2.64],[0.68,2.72],[0.70,2.81],[0.72,2.89],[0.74,2.98],[0.76,3.06],[0.78,3.15],[0.80,3.23],[0.82,3.32],[0.84,3.40],[0.86,3.49],[0.88,3.57],[0.90,3.66],[0.92,3.74],[0.94,3.83],[0.96,3.92],[0.98,4.00],[1.00,4.09],
[0.55,2.22],[0.60,2.45],[0.65,2.66],[0.70,2.88],[0.75,3.10],[0.80,3.33],[0.85,3.55],[0.90,3.80],[0.95,4.05],[0.98,4.25],[1.02,4.40],[1.05,4.60],
[0.62,2.42],[0.68,2.64],[0.72,2.80],[0.78,3.02],[0.82,3.18],[0.86,3.34],[0.90,3.50],[0.94,3.65],[0.98,3.78],[1.02,3.90],[1.06,4.02],[1.10,4.12],
[1.03,3.92],[1.04,4.18],[1.05,4.41],[1.06,4.62],[1.08,4.05],[1.09,4.33],[1.10,4.78],[1.11,4.52],[1.12,4.12],[1.13,4.95],[1.14,4.38],[1.15,4.70],[1.16,4.20],[1.17,5.08],[1.18,4.55],[1.19,4.85],[1.20,4.28],[1.21,5.30],[1.22,4.66],[1.23,5.02],[1.24,4.38],[1.25,5.52],[1.26,4.85],[1.27,5.20],[1.28,4.45],[1.29,5.70],[1.30,5.00],[1.31,5.42],[1.32,4.58],[1.33,5.85],[1.34,5.15],[1.35,4.72],[1.36,6.05],[1.37,5.55],[1.38,4.80],[1.39,6.20],[1.40,5.30],[1.41,5.80],[1.42,4.90],[1.43,6.35],[1.44,5.55],[1.45,6.05],[1.46,5.00],[1.47,6.60],[1.48,5.75],[1.49,6.30],[1.50,5.05],[1.51,6.90],[1.52,5.95],[1.53,6.55],[1.54,5.10],[1.55,7.25],[1.56,6.20],[1.57,6.85],[1.58,5.10],[1.59,7.55],[1.60,6.45],[1.61,7.10],[1.62,5.05],[1.63,7.70],[1.64,6.70],[1.65,7.35],[1.66,5.20],[1.67,6.20],[1.68,7.90],[1.69,6.95],[1.70,5.15],[1.71,7.55],[1.72,6.40],[1.73,8.15],[1.74,7.20],[1.75,5.30],[1.76,7.80],[1.77,6.65],[1.78,8.40],[1.79,7.45],[1.80,5.45],[1.81,8.05],[1.82,6.90],[1.83,8.65],[1.84,7.70],[1.85,5.70],[1.86,8.30],[1.87,7.15],[1.88,8.85],[1.89,7.95],[1.90,6.10],[1.91,8.55],[1.92,7.40],[1.93,9.05],[1.94,8.20],[1.95,6.45],[1.96,8.80],[1.97,7.65],[1.98,9.20],[1.99,8.40],[2.00,6.70],[2.01,9.00],[2.02,7.90],[2.03,9.35],[2.04,8.60],[2.05,6.85],[2.06,9.15],[2.07,8.15],[2.08,9.55],[2.09,8.80],[2.10,7.10],[2.11,9.35],[2.12,8.40],[2.13,9.75],[2.14,9.00],[2.15,7.35],[2.16,9.55],[2.17,8.65],[2.18,9.95],[2.19,9.20],[2.20,7.60],[2.21,9.75],[2.22,8.90],[2.23,10.10],[2.24,9.40],[2.25,8.10],[2.26,9.95],[2.27,9.10],[2.28,10.20],[2.29,9.60],[2.30,8.35],[2.31,10.10],[2.32,9.30],[2.33,10.35],[2.34,9.80],[2.35,8.60],[2.36,10.25],[2.37,9.50],[2.38,10.50],[2.39,10.00],[2.40,8.85],[2.41,10.40],[2.42,9.70],[2.43,10.60],[2.44,10.15],[2.45,9.10],[2.46,10.55],[2.47,9.90],[2.48,10.75],[2.49,10.30],[2.50,9.35],[2.52,10.70],[2.54,10.05],[2.56,10.90],[2.58,9.70],[2.60,10.45],[2.62,11.00],[2.64,10.20],[2.66,10.75],[2.68,11.20],[2.70,10.40],[2.72,11.10],[2.74,10.60],[2.76,11.40],[2.78,10.50],[2.80,11.25],
[1.07,4.48],[1.12,4.62],[1.18,4.95],[1.22,4.90],[1.27,4.70],[1.32,5.30],[1.36,5.20],[1.41,5.50],[1.45,5.35],[1.50,5.90],[1.53,5.60],[1.56,5.85],[1.60,5.90],[1.63,6.30],[1.66,7.10],[1.69,6.50],[1.72,7.00],[1.75,7.50],[1.78,7.00],[1.81,7.40],[1.84,8.10],[1.87,7.80],[1.90,7.20],[1.93,8.50],[1.96,7.90],[1.99,7.60],[2.02,8.70],[2.05,8.30],[2.08,8.00],[2.11,8.90],[2.14,8.50],[2.17,9.10],[2.20,8.60],[2.23,9.30],[2.26,8.70],[2.29,9.00],[2.32,9.80],[2.35,9.40],[2.38,9.00],[2.41,9.60],[2.44,9.30],[2.47,10.10],[2.50,9.90],[2.53,10.40],[2.57,10.30],[2.61,10.70],[2.65,11.05],[2.69,10.80],[2.73,11.35],
[1.01,4.00],[1.02,4.25],[1.04,4.50],[1.05,4.10],[1.07,4.30],[1.08,4.70],[1.10,4.45],[1.11,4.20],[1.12,4.85],[1.13,4.55],[1.14,4.25],[1.15,5.00],[1.16,4.65],[1.17,4.40],[1.18,5.15],[1.19,4.30],[1.20,4.75],[1.21,4.50],[1.22,5.25],[1.23,4.40],[1.24,4.85],[1.25,5.10],[1.26,4.55],[1.27,5.45],[1.28,4.95],[1.29,4.60],[1.30,5.30],[1.31,4.75],[1.32,5.60],[1.33,5.00],[1.34,4.65],[1.35,5.45],
[1.36,4.90],[1.37,5.85],[1.38,5.30],[1.39,5.00],[1.40,5.65],[1.41,6.10],[1.42,5.20],[1.43,5.60],[1.44,6.00],[1.45,5.10],[1.46,6.40],[1.47,5.45],[1.48,6.10],[1.49,5.10],[1.50,6.55],[1.51,5.50],[1.52,6.25],[1.53,7.00],[1.54,5.70],[1.55,6.40],[1.56,5.30],[1.57,7.20],[1.58,6.00],[1.59,6.70],[1.60,5.15],[1.61,7.40],[1.62,6.20],[1.63,5.40],[1.64,7.05],[1.65,6.00],[1.66,7.55],[1.67,6.80],[1.68,5.45],[1.69,7.30],[1.70,6.20],[1.71,7.85],[1.72,5.60],[1.73,6.80],
[1.74,7.85],[1.75,6.20],[1.76,5.50],[1.77,7.40],[1.78,6.30],[1.79,8.20],[1.80,6.80],[1.81,5.80],[1.82,7.60],[1.83,6.50],[1.84,8.45],[1.85,7.25],[1.86,6.00],[1.87,8.50],[1.88,6.70],[1.89,7.55],[1.90,8.75],[1.91,6.40],[1.92,8.00],[1.93,7.05],[1.94,8.90],[1.95,7.30],[1.96,6.70],[1.97,8.55],[1.98,7.20],[1.99,9.00],[2.00,8.00],[2.01,6.95],[2.02,8.90],[2.03,7.55],[2.04,9.10],[2.05,8.00],[2.06,7.10],[2.07,8.95],[2.08,7.70],[2.09,9.30],
[2.10,8.40],[2.11,7.30],[2.12,9.10],[2.13,7.90],[2.14,9.50],[2.15,8.60],[2.16,7.55],[2.17,9.35],[2.18,8.20],[2.19,9.70],[2.20,8.90],[2.21,7.80],[2.22,9.55],[2.23,8.50],[2.24,9.90],[2.25,9.20],[2.26,8.10],[2.27,9.75],[2.28,8.85],[2.29,10.00],[2.30,9.40],[2.31,8.55],[2.32,9.95],[2.33,9.00],[2.34,10.20],[2.35,9.70],[2.36,8.80],[2.37,10.15],[2.38,9.25],[2.39,10.40],[2.40,9.80],[2.41,9.00],[2.42,10.30],[2.43,9.50],[2.44,10.55],[2.45,9.95],[2.46,9.30],[2.47,10.50],[2.48,9.60],[2.49,10.70],[2.51,10.05],[2.53,9.60],[2.55,10.50],[2.57,9.90],[2.59,10.80],[2.61,10.20],[2.63,10.60],[2.65,10.45],[2.67,11.00],[2.69,10.55],[2.71,11.25],[2.74,10.90],[2.77,11.10],
[0.52,2.02],[0.57,2.25],[0.63,2.50],[0.67,2.70],[0.71,2.86],[0.73,3.00],[0.77,3.15],[0.79,3.25],[0.81,3.30],[0.83,3.45],[0.85,3.45],[0.87,3.62],[0.89,3.55],[0.91,3.75],[0.93,3.65],[0.95,3.90],[0.97,3.85],[0.99,4.15],[0.92,3.90],[0.96,4.10],[1.00,3.85]
];

const fTest = [
[0.04,4.00],[0.06,4.00],[0.08,4.00],[0.10,4.00],[0.12,4.01],[0.14,4.00],[0.16,4.01],[0.18,4.00],[0.20,4.01],[0.22,3.99],[0.24,4.02],[0.26,3.98],[0.28,4.04],[0.30,3.96],[0.31,4.06],[0.33,3.94],[0.34,4.08],[0.36,3.92],
[0.38,4.10],[0.41,4.13],[0.44,4.16],[0.47,4.20],[0.50,4.24],[0.53,4.28],[0.56,4.33],[0.59,4.38],[0.62,4.43],[0.65,4.49],[0.68,4.55],[0.71,4.60],[0.74,4.66],[0.77,4.71],[0.80,4.76],[0.83,4.81],[0.86,4.86],[0.89,4.91],[0.92,4.96],[0.95,5.02],[0.98,5.08],[1.01,5.15],[1.04,5.22],[1.07,5.30],[1.10,5.38],[1.13,5.46],[1.16,5.55],[1.19,5.62],[1.22,5.68],[1.26,5.72],[1.30,5.75],[1.34,5.70],
[0.39,3.89],[0.42,3.85],[0.45,3.81],[0.48,3.77],[0.51,3.72],[0.54,3.67],[0.57,3.62],[0.60,3.57],[0.63,3.52],[0.66,3.46],[0.69,3.40],[0.72,3.35],[0.75,3.30],[0.78,3.25],[0.81,3.20],[0.84,3.15],[0.87,3.10],[0.90,3.06],[0.93,3.02],[0.96,2.98],[0.99,2.93],[1.02,2.85],[1.05,2.75],[1.08,2.68],[1.11,2.62],[1.14,2.55],[1.17,2.48],[1.20,2.42],[1.23,2.35],[1.26,2.30],[1.29,2.25],[1.32,2.20],[1.36,2.18],[1.40,2.20],
[0.55,4.05],[0.60,3.90],[0.62,4.20],[0.66,3.75],[0.68,4.10],[0.70,3.85],[0.72,4.35],[0.74,3.60],[0.76,4.00],[0.78,4.45],[0.80,3.70],[0.82,4.20],[0.84,3.45],[0.85,4.60],[0.87,3.90],[0.88,4.30],[0.90,3.55],[0.91,4.70],[0.92,4.05],[0.94,3.35],[0.95,4.50],[0.96,3.80],[0.98,4.20],[1.00,3.60],[1.00,4.75],[1.02,3.30],[1.03,4.40],[1.05,3.95],[1.06,5.00],[1.07,3.50],[1.08,4.60],[1.10,3.20],[1.10,4.15],[1.12,4.85],[1.13,3.70],[1.15,5.20],[1.15,2.90],[1.16,4.40],[1.18,3.40],[1.19,5.35],[1.20,4.00],[1.21,2.80],[1.22,4.70],[1.23,3.60],[1.24,4.20],[1.25,3.95],[1.25,5.10],[1.26,3.00],[1.27,4.35],[1.28,3.75],[1.28,4.05],[1.29,5.50],[1.30,2.60],[1.30,3.85],[1.31,4.50],[1.32,3.30],[1.33,4.10],[1.34,2.45],[1.35,4.80],[1.36,3.55],[1.37,2.30],[1.38,4.00],[1.39,2.60],[1.40,5.60],[1.12,2.65],[1.18,2.55],[1.24,2.50],[1.10,5.80],[1.16,5.75],[1.20,5.45],[1.36,5.78],[1.32,5.60],
[1.22,3.90],[1.24,4.10],[1.26,4.05],[1.27,3.85],[1.29,4.15],[1.23,4.25],[1.28,3.70],
[1.41,4.90],[1.42,3.20],[1.43,5.10],[1.44,2.90],[1.45,4.40],[1.45,5.30],[1.46,3.60],[1.47,5.45],[1.48,2.70],[1.48,4.10],[1.49,5.60],[1.50,3.30],[1.50,4.70],[1.51,5.20],[1.52,2.80],[1.52,3.90],[1.53,5.50],[1.54,4.30],[1.55,2.50],[1.55,5.70],[1.56,3.10],[1.57,4.90],[1.58,2.40],[1.58,5.85],[1.59,3.70],[1.60,5.40],[1.60,2.65],[1.61,4.50],[1.62,6.00],[1.62,2.90],[1.63,3.40],[1.64,5.10],[1.64,2.55],[1.65,6.10],[1.66,4.10],[1.66,2.20],[1.67,5.60],[1.68,3.60],[1.68,1.90],[1.69,6.30],[1.70,4.70],[1.70,2.40],[1.71,1.80],[1.72,5.90],[1.72,3.10],[1.73,6.40],[1.74,4.20],[1.74,2.00],[1.75,1.70],[1.75,5.30],[1.76,3.50],[1.77,6.20],[1.78,1.75],[1.78,4.60],[1.79,2.80],[1.80,5.80],[1.80,1.65],[1.47,2.55],[1.53,2.45],[1.57,2.70],[1.59,6.30],[1.62,6.60],[1.66,6.70],[1.70,6.85],
[1.81,3.60],[1.82,4.30],[1.82,2.10],[1.83,5.00],[1.84,3.00],[1.84,6.00],[1.85,4.00],[1.85,1.80],[1.86,3.60],[1.86,5.40],[1.87,2.50],[1.87,6.30],[1.88,4.40],[1.89,3.20],[1.89,5.70],[1.90,2.00],[1.90,4.80],[1.91,3.80],[1.91,6.10],[1.92,2.60],[1.92,5.20],[1.93,4.20],[1.93,1.70],[1.94,5.90],[1.94,3.40],[1.95,2.20],[1.95,4.90],[1.96,6.40],[1.96,3.00],[1.97,5.50],[1.97,2.00],[1.98,4.30],[1.98,6.00],[1.99,2.50],[1.99,3.70],[2.00,5.80],[2.00,2.10],[2.00,4.60],[2.01,6.30],[2.01,3.20],[2.02,1.70],[2.02,5.00],[2.03,3.90],[2.03,2.60],[2.04,6.60],[2.04,4.40],[2.05,1.50],[2.05,5.40],[2.06,3.40],[2.06,2.20],[2.07,4.80],[2.07,6.10],[2.08,1.30],[2.08,3.80],[2.09,5.20],[2.09,2.80],[2.10,6.90],[2.10,4.10],
[1.82,3.50],[1.84,3.70],[1.86,3.85],[1.83,3.90],[1.85,3.40],[1.87,4.10],[1.81,4.00],[1.88,3.60],
[2.11,1.10],[2.11,3.50],[2.12,5.60],[2.12,2.40],[2.13,4.50],[2.13,6.50],[2.14,1.40],[2.14,3.00],[2.15,5.00],[2.15,4.00],[2.16,0.95],[2.16,6.10],[2.17,2.00],[2.17,4.30],[2.18,3.60],[2.18,5.40],[2.19,1.60],[2.19,6.80],[2.20,4.10],[2.20,2.70],[2.21,7.00],[2.21,3.30],[2.22,1.30],[2.22,4.80],[2.23,5.90],[2.23,2.30],[2.24,3.80],[2.25,6.50],[2.25,1.00],[2.26,4.40],[2.26,2.90],[2.27,5.30],[2.28,1.50],[2.28,3.50],[2.29,6.20],[2.30,4.90],[2.30,2.10],[2.31,3.00],[2.32,5.70],[2.32,1.55],[2.33,4.20],[2.34,2.50],[2.34,6.60],[2.35,3.40],[2.36,5.10],[2.36,1.20],[2.37,6.90],[2.37,3.80],[2.38,2.00],[2.38,4.60],[2.39,6.40],[2.40,1.40],[2.40,3.60],[2.41,5.50],[2.41,2.80],[2.42,0.90],[2.42,4.30],[2.43,6.20],[2.43,2.30],[2.44,5.00],[2.44,3.20],[2.45,0.85],[2.45,7.00],[2.46,4.10],[2.46,1.60],[2.47,5.60],[2.47,3.60],[2.48,0.75],[2.48,2.70],[2.49,4.80],[2.49,1.50],[2.50,7.50],[2.50,3.40],[2.50,0.55],
[2.51,4.20],[2.52,1.45],[2.52,5.50],[2.53,3.10],[2.54,4.80],[2.55,2.10],[2.55,0.80],[2.56,3.60],[2.57,5.20],[2.58,2.70],[2.58,4.40],[2.59,3.30],[2.60,6.20],[2.60,4.40],[2.61,2.90],[2.62,5.90],[2.63,3.20],[2.64,6.50],[2.65,2.75],[2.65,1.80],[2.66,4.70],[2.66,1.95],[2.67,3.60],[2.68,6.30],[2.68,2.65],[2.70,4.20],[2.70,1.10],[2.72,1.05],[2.73,4.00],[2.72,4.67],[2.75,7.50],[2.73,0.36],[2.75,4.22],[2.78,0.08],[2.79,4.04],[2.62,0.80],[2.56,0.60],
[0.58,4.15],[0.64,3.95],[0.70,4.25],[0.75,3.75],[0.79,4.10],[0.83,3.85],[0.86,4.40],[0.89,3.75],[0.93,4.30],[0.97,3.50],[0.99,4.55],[1.04,3.70],[1.06,4.25],[1.09,4.90],[1.11,3.45],[1.14,4.05],[1.17,3.20],[1.19,4.55],[1.21,3.35],[1.23,5.20],[1.26,4.60],[1.30,4.20],[1.33,3.65],[1.35,3.95],[1.37,4.35],[1.39,3.25],[1.27,2.75],[1.31,3.05],[1.35,2.85],[1.38,2.40],[1.13,5.05],[1.18,5.80],[1.23,5.55],[1.28,5.35],[1.33,5.40],[1.38,5.10],
[1.41,5.70],[1.42,4.50],[1.43,3.80],[1.44,5.60],[1.46,4.85],[1.47,3.30],[1.49,4.40],[1.50,5.90],[1.51,3.60],[1.53,4.70],[1.54,3.20],[1.55,6.00],[1.56,4.10],[1.57,5.40],[1.59,4.80],[1.60,3.10],[1.61,5.80],[1.63,4.40],[1.63,2.40],[1.65,5.30],[1.66,3.30],[1.67,2.60],[1.68,6.10],[1.69,4.30],[1.70,5.20],[1.71,2.90],[1.72,4.90],[1.73,2.20],[1.74,5.60],[1.75,3.80],[1.76,6.50],[1.77,4.10],[1.77,2.40],[1.78,5.10],[1.79,3.30],[1.80,4.30],[1.80,6.20],
[1.81,2.60],[1.82,5.40],[1.83,4.60],[1.84,2.40],[1.85,6.20],[1.86,4.50],[1.87,3.30],[1.88,5.10],[1.89,2.10],[1.90,5.60],[1.91,4.40],[1.92,3.60],[1.93,5.50],[1.94,2.80],[1.95,6.10],[1.96,4.00],[1.97,3.40],[1.98,5.20],[1.99,2.20],[2.00,6.20],[2.01,4.20],[2.02,3.60],[2.03,5.60],[2.04,2.90],[2.05,4.70],[2.06,6.30],[2.07,3.60],[2.08,5.00],[2.09,4.30],[2.10,2.40],
[2.11,6.00],[2.12,4.20],[2.13,3.40],[2.14,5.30],[2.16,4.60],[2.17,3.20],[2.18,6.20],[2.19,3.90],[2.20,5.10],[2.21,1.80],[2.22,4.10],[2.23,6.80],[2.24,2.80],[2.26,5.60],[2.27,3.90],[2.28,4.50],[2.29,2.60],[2.31,5.20],[2.33,3.70],[2.34,4.80],[2.35,1.80],[2.37,5.50],[2.39,3.10],[2.41,4.00],[2.43,5.40],[2.45,3.80],[2.47,4.40],[2.49,2.20]
];

// axis ticks and reference levels
const distTicks = [0, 0.5, 1.0, 1.5, 2.0, 2.5];
const eZTicks = [-3, -2, -1, 0, 1, 2];
const fZTicks = [-3, -2, -1, 0, 1, 2, 3];
const eSigTicks = [0.05, 0.10, 0.15, 0.20, 0.25, 0.30, 0.35];
const fSigTicks = [0.2, 0.4, 0.6, 0.8, 1.0, 1.2, 1.4, 1.6];
const eTestTicks = [0, 2, 4, 6, 8, 10];
const fTestTicks = [0, 1, 2, 3, 4, 5, 6, 7];
const zLevels = [2, 1, 0.5];

const W = 931, H = 1128;
const blue = '#4c72b0';
const ink = '#262626';
const bandFill = ['#e6e6e6', '#d1d1d1', '#c1c1c1'];
const xDomain = [-0.094, 2.945];

const svg = d3.select('body').append('svg')
    .attr('width', W)
    .attr('height', H)
    .attr('viewBox', [0, 0, W, H]);

function scatter({box, yDomain, yTicks, yFormat, data, r, ylabel, labelX, levels}) {
  const x = d3.scaleLinear().domain(xDomain).range([box.left, box.right]);
  const y = d3.scaleLinear().domain(yDomain).range([box.bottom, box.top]);
  const g = svg.append('g');
  const [d0, d1] = d3.extent(data, d => d[0]);

  // shaded z-score bands
  if (levels) {
    g.selectAll('rect.band')
      .data(levels)
      .join('rect')
        .attr('class', 'band')
        .attr('x', x(d0))
        .attr('width', x(d1) - x(d0))
        .attr('y', d => y(d))
        .attr('height', d => y(-d) - y(d))
        .attr('fill', (d, i) => bandFill[i]);
  }

  g.append('g')
    .selectAll('circle')
    .data(data)
    .join('circle')
      .attr('cx', d => x(d[0]))
      .attr('cy', d => y(d[1]))
      .attr('r', r)
      .attr('fill', blue);

  if (levels) {
    g.selectAll('line.level')
      .data(levels.flatMap(v => [v, -v]))
      .join('line')
        .attr('class', 'level')
        .attr('x1', x(d0))
        .attr('x2', x(d1))
        .attr('y1', d => y(d))
        .attr('y2', d => y(d))
        .attr('stroke', '#7f7f7f')
        .attr('stroke-width', 1.5)
        .attr('stroke-dasharray', '5.5,2.4');
  }

  g.append('rect')
      .attr('x', box.left)
      .attr('y', box.top)
      .attr('width', box.right - box.left)
      .attr('height', box.bottom - box.top)
      .attr('fill', 'none')
      .attr('stroke', '#2b2b2b')
      .attr('stroke-width', 1.4);

  const styleAxis = a => {
    a.select('.domain').remove();
    a.selectAll('.tick line').remove();
    a.selectAll('text')
      .attr('fill', ink)
      .style('font-family', 'Liberation Sans, Arial, sans-serif')
      .style('font-size', '13.5px');
  };

  g.append('g')
      .attr('transform', `translate(0,${box.bottom})`)
      .call(d3.axisBottom(x).tickValues(distTicks).tickFormat(d3.format('.1f')).tickSize(0).tickPadding(9.2))
      .call(styleAxis);

  g.append('g')
      .attr('transform', `translate(${box.left},0)`)
      .call(d3.axisLeft(y).tickValues(yTicks).tickFormat(yFormat).tickSize(0).tickPadding(9))
      .call(styleAxis);

  g.append('text')
      .attr('x', (box.left + box.right) / 2)
      .attr('y', box.bottom + 36.7)
      .attr('text-anchor', 'middle')
      .attr('fill', ink)
      .style('font-family', 'Liberation Sans, Arial, sans-serif')
      .style('font-size', '13.5px')
      .text('distance');

  g.append('text')
      .attr('transform', `translate(${labelX},${(box.top + box.bottom) / 2}) rotate(-90)`)
      .attr('text-anchor', 'middle')
      .attr('fill', ink)
      .style('font-family', 'Liberation Sans, Arial, sans-serif')
      .style('font-size', '13.5px')
      .text(ylabel);
}

const fmtInt = d3.format('d');

scatter({box: {left: 52.3, right: 446.7, top: 2, bottom: 263.3}, yDomain: [-3.0, 2.82],
  yTicks: eZTicks, yFormat: fmtInt, data: eZscore, r: 3.2, ylabel: 'e zscore', labelX: 20.7, levels: zLevels});
scatter({box: {left: 527.3, right: 921.7, top: 2, bottom: 263.3}, yDomain: [-3.56, 3.535],
  yTicks: fZTicks, yFormat: fmtInt, data: fZscore, r: 3.2, ylabel: 'f zscore', labelX: 495.5, levels: zLevels});
scatter({box: {left: 62.3, right: 446.7, top: 374.7, bottom: 628.7}, yDomain: [0.0032, 0.356],
  yTicks: eSigTicks, yFormat: d3.format('.2f'), data: eSig, r: 2.15, ylabel: 'esig_test', labelX: 19});
scatter({box: {left: 530.7, right: 921.7, top: 370, bottom: 628}, yDomain: [0.131, 1.746],
  yTicks: fSigTicks, yFormat: d3.format('.1f'), data: fSig, r: 2.15, ylabel: 'fsig_test', labelX: 494});
scatter({box: {left: 52.3, right: 446.7, top: 771.7, bottom: 1032.7}, yDomain: [-0.33, 11.98],
  yTicks: eTestTicks, yFormat: fmtInt, data: eTest, r: 2.2, ylabel: 'etest', labelX: 20.7});
scatter({box: {left: 520, right: 921.7, top: 765.7, bottom: 1032}, yDomain: [-0.29, 7.91],
  yTicks: fTestTicks, yFormat: fmtInt, data: fTest, r: 2.3, ylabel: 'ftest', labelX: 495});

// ---- captions ----
const B = 'b', I = 'i', N = 'n';
const capFont = 'Liberation Serif, Times New Roman, serif';

function addRuns(text, runs) {
  runs.forEach(([s, st]) => {
    text.append('tspan')
      .style('font-weight', st === B ? 'bold' : 'normal')
      .style('font-style', st === I ? 'italic' : 'normal')
      .text(s);
  });
}

function capText() {
  return svg.append('text')
    .attr('fill', '#111')
    .style('font-family', capFont)
    .style('font-size', '26.5px')
    .style('white-space', 'pre');
}

function caption(runs, cx, y) {
  const t = capText().attr('x', cx).attr('y', y).attr('text-anchor', 'middle');
  addRuns(t, runs);
}

// justified first line plus hanging second line
function caption2(line1, line2, x0, x1, y1, y2) {
  const nodes = line1.map(word => {
    const t = capText().attr('y', y1);
    addRuns(t, word);
    return t;
  });
  const widths = nodes.map(n => n.node().getComputedTextLength());
  const gap = (x1 - x0 - d3.sum(widths)) / (nodes.length - 1);
  let cx = x0;
  nodes.forEach((n, i) => { n.attr('x', cx); cx += widths[i] + gap; });
  const t = capText().attr('x', x0 + widths[0] + 6.6).attr('y', y2);
  addRuns(t, line2);
}

const rho = [['ρ', I], ['(', N], ['x', I], [')', N]];

caption([['(a)', B], [' Test ', N], ['e', I], [' z scores by distance', N]], 227, 348);
caption([['(b)', B], [' Test ', N], ...rho, [' z scores by distance', N]], 701, 348);

caption2([[['(c)', B]], [['Test', N]], [['e', I]], [['posterior', N]], [['standard', N]], [['deviation', N]], [['by', N]]],
  [['distance', N]], 3, 458, 713, 744);
caption2([[['(d)', B]], [['Test', N]], rho, [['posterior', N]], [['standard', N]], [['deviation', N]]],
  [['by distance', N]], 477, 928, 713, 744);

caption([['(e)', B], [' Test ', N], ['e', I], [' values by distance', N]], 228, 1118);
caption([['(f)', B], [' Test ', N], ...rho, [' values by distance', N]], 704, 1118);
</script>
</body>
</html>
